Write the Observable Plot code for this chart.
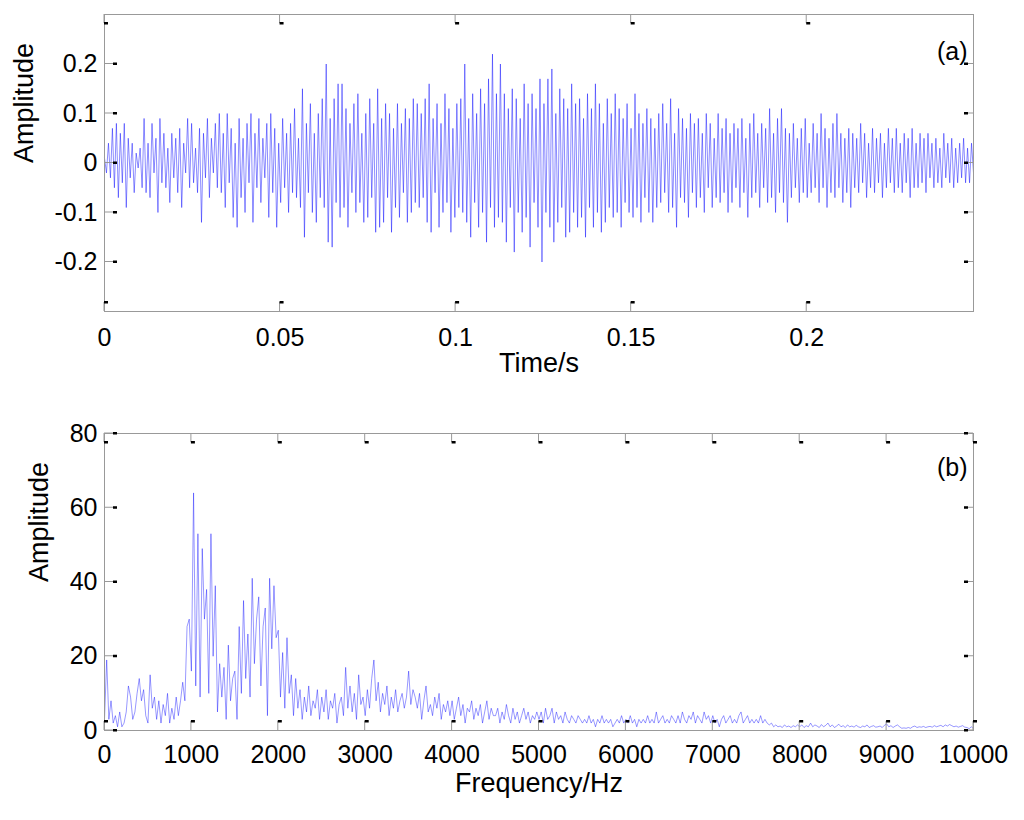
<!DOCTYPE html>
<html><head><meta charset="utf-8">
<script src="https://cdn.jsdelivr.net/npm/d3@7"></script>
<script src="https://cdn.jsdelivr.net/npm/@observablehq/plot@0.6"></script>
<style>
body{margin:0;background:#fff;}
#chart{width:1024px;height:820px;}
#chart svg{display:block;}
</style></head><body><div id="chart"></div>
<script>
// ---- Panel (a): time signal ----
const timeEnd = 0.2475; // seconds, last sample
const ampTime = [
0.01,-0.02,0.04,-0.03,0.07,-0.05,0.08,-0.07,0.06,-0.04,0.08,-0.09,0.05,-0.03,0.04,-0.06,0.02,-0.01,0.03,-0.05,
0.09,-0.06,0.04,-0.07,0.08,-0.02,0.05,-0.10,0.09,-0.04,0.06,-0.05,0.03,-0.08,0.06,-0.03,0.05,-0.06,0.07,-0.09,
0.04,-0.02,0.09,-0.05,0.08,-0.04,0.03,-0.06,0.07,-0.12,0.06,-0.03,0.09,-0.07,0.05,-0.02,0.08,-0.05,0.10,-0.06,
0.06,-0.09,0.10,-0.04,0.07,-0.11,0.04,-0.13,0.09,-0.07,0.05,-0.10,0.08,-0.04,0.10,-0.12,0.06,-0.05,0.09,-0.08,
0.05,-0.03,0.08,-0.11,0.10,-0.06,0.07,-0.13,0.04,-0.08,0.09,-0.05,0.06,-0.10,0.08,-0.06,0.11,-0.07,0.05,-0.09,
0.15,-0.15,0.08,-0.06,0.12,-0.10,0.06,-0.12,0.10,-0.07,0.13,-0.09,0.20,-0.16,0.09,-0.17,0.13,-0.08,0.16,-0.11,
0.16,-0.09,0.11,-0.13,0.08,-0.06,0.12,-0.10,0.14,-0.08,0.06,-0.12,0.10,-0.11,0.13,-0.07,0.08,-0.14,0.15,-0.13,
0.09,-0.12,0.12,-0.07,0.10,-0.14,0.07,-0.09,0.12,-0.11,0.08,-0.06,0.11,-0.12,0.09,-0.10,0.13,-0.08,0.12,-0.09,
0.10,-0.07,0.13,-0.12,0.16,-0.14,0.09,-0.06,0.12,-0.13,0.08,-0.10,0.14,-0.08,0.11,-0.14,0.07,-0.11,0.12,-0.09,
0.13,-0.10,0.20,-0.12,0.09,-0.15,0.14,-0.08,0.10,-0.13,0.15,-0.10,0.12,-0.16,0.17,-0.09,0.22,-0.13,0.14,-0.11,
0.20,-0.12,0.14,-0.16,0.11,-0.09,0.15,-0.18,0.13,-0.10,0.09,-0.14,0.16,-0.11,0.12,-0.17,0.14,-0.08,0.11,-0.13,
0.17,-0.20,0.12,-0.10,0.17,-0.13,0.19,-0.16,0.10,-0.12,0.15,-0.09,0.13,-0.15,0.11,-0.14,0.16,-0.10,0.12,-0.13,
0.13,-0.11,0.09,-0.15,0.14,-0.09,0.11,-0.13,0.16,-0.10,0.12,-0.14,0.08,-0.12,0.13,-0.09,0.10,-0.11,0.14,-0.10,
0.11,-0.13,0.09,-0.08,0.12,-0.10,0.07,-0.11,0.14,-0.09,0.10,-0.12,0.08,-0.07,0.11,-0.10,0.09,-0.12,0.07,-0.09,
0.10,-0.08,0.12,-0.06,0.08,-0.10,0.13,-0.09,0.06,-0.13,0.11,-0.07,0.09,-0.08,0.07,-0.11,0.10,-0.06,0.08,-0.09,
0.09,-0.07,0.06,-0.10,0.10,-0.05,0.08,-0.09,0.05,-0.07,0.10,-0.08,0.07,-0.06,0.09,-0.10,0.06,-0.08,0.08,-0.05,
0.07,-0.09,0.09,-0.06,0.05,-0.11,0.08,-0.07,0.10,-0.06,0.06,-0.09,0.08,-0.05,0.07,-0.08,0.11,-0.07,0.06,-0.10,
0.09,-0.06,0.11,-0.08,0.07,-0.12,0.06,-0.07,0.08,-0.05,0.05,-0.08,0.07,-0.06,0.09,-0.07,0.04,-0.06,0.08,-0.05,
0.06,-0.08,0.10,-0.05,0.07,-0.09,0.05,-0.06,0.08,-0.07,0.10,-0.05,0.06,-0.08,0.05,-0.06,0.07,-0.09,0.06,-0.05,
0.05,-0.06,0.08,-0.04,0.06,-0.07,0.04,-0.05,0.07,-0.06,0.05,-0.04,0.06,-0.07,0.04,-0.05,0.07,-0.04,0.05,-0.06,
0.07,-0.05,0.04,-0.06,0.06,-0.04,0.05,-0.07,0.07,-0.05,0.04,-0.05,0.06,-0.04,0.05,-0.06,0.06,-0.03,0.04,-0.05,
0.05,-0.04,0.03,-0.05,0.06,-0.03,0.04,-0.04,0.05,-0.05,0.03,-0.04,0.04,-0.03,0.05,-0.04,0.03,-0.04,0.04,-0.02
];
const timeTicks = [0, 0.05, 0.1, 0.15, 0.2];
const ampTicksA = [-0.2, -0.1, 0, 0.1, 0.2];

// ---- Panel (b): spectrum ----
const freqStep = 25; // Hz between spectrum points
const ampFreq = [
3,19,3,8,2,4,1,5,1,2,5,12,9,3,5,10,14,8,11,4,
2,15,6,9,3,8,2,7,4,10,2,6,3,9,4,8,13,8,28,30,
16,64,12,53,9,49,30,38,10,53,20,39,5,18,9,17,3,23,8,14,
16,3,28,10,35,14,26,9,41,18,30,36,12,28,33,4,41,22,39,25,
27,9,21,6,25,10,15,4,14,6,11,3,9,5,12,4,8,6,11,3,
9,5,11,3,8,6,10,2,7,9,4,17,6,12,5,10,3,15,7,9,
4,11,6,14,19,8,13,5,10,7,12,4,9,6,11,5,8,10,6,9,
16,7,11,9,6,10,3,8,12,5,7,4,9,6,10,3,7,5,8,4,
8,3,6,9,4,7,2,6,5,8,3,6,4,7,2,5,8,3,6,4,
4,6,2,5,3,7,4,2,6,3,5,2,4,6,3,5,2,4,3,5,
3,5,2,6,3,4,6,2,5,3,4,2,5,3,2,4,3,2,4,3,
2,3,2,4,2,3,1,3,2,4,2,3,2,3,1,2,3,2,4,2,
3,2,4,2,3,1,3,2,3,2,4,2,3,2,5,2,3,4,2,3,
2,4,3,2,4,2,5,3,2,4,3,5,2,4,3,2,5,3,4,2,
4,2,3,1,3,4,2,3,4,2,3,2,4,5,2,3,4,2,3,2,
3,2,4,2,3,2,1.5,2,1,1.5,1,1.2,0.8,1.5,1,1.2,0.8,1.3,1,1.5,
1,1.5,0.8,1.3,1,2,1,1.5,1.2,0.8,1.6,1,1.4,2,1,1.5,0.8,1.2,1.7,1,
1.3,0.8,1.5,1,1.2,0.9,1.4,1,0.8,1.2,1,1.5,0.8,1.1,1.3,0.9,1,1.2,0.8,1.4,
1.8,1,1.3,0.8,1.2,1.5,1,0.6,0.7,0.6,0.8,0.6,1,1.2,0.8,1,0.9,1.1,0.8,1,
1.1,0.9,1.3,1,1.2,1.4,1,1.5,1.2,1.6,1.3,1,1.2,0.9,1.1,1.3,0.9,0.8,0.5,1,
0.5
];
const freqTicks = [0,1000,2000,3000,4000,5000,6000,7000,8000,9000,10000];
const ampTicksB = [0, 20, 40, 60, 80];

const timeData = ampTime.map((v, i) => ({x: i * timeEnd / (ampTime.length - 1), y: v}));
const freqData = ampFreq.map((v, i) => ({x: i * freqStep, y: v}));

const FONT = "'Liberation Sans', Arial, Helvetica, sans-serif";

function panel(o) {
  const W = 1024, H = 410, ML = 104, MR = 51;
  const plot = Plot.plot({
    width: W, height: H,
    marginLeft: ML, marginRight: MR, marginTop: o.mt, marginBottom: o.mb,
    style: {fontFamily: FONT, fontSize: "25px", background: "#fff", color: "#000", overflow: "visible"},
    x: {domain: o.xDomain, label: null},
    y: {domain: o.yDomain, label: null},
    marks: [
      Plot.line(o.data, {x: "x", y: "y", stroke: "#0000ff", strokeWidth: o.lw, strokeOpacity: 0.45}),
      Plot.frame({stroke: "#999", strokeWidth: 1}),
      Plot.axisX(o.xTicks, {tickSize: 0, tickPadding: o.padX, tickFormat: d => String(d), fontSize: 25, label: null}),
      Plot.axisY(o.yTicks, {tickSize: 0, tickPadding: 7, tickFormat: d => String(d), fontSize: 25, label: null}),
      Plot.text([o.xLabel], {frameAnchor: "bottom", dy: o.xLabelDy, fontSize: 27, fill: "#000"}),
      Plot.text(["Amplitude"], {frameAnchor: "left", rotate: -90, dx: o.yLabelDx, fontSize: 27, fill: "#000"}),
      Plot.text([o.tag], {frameAnchor: "top-right", textAnchor: "end", dx: -6, dy: o.tagDy, fontSize: 25, fill: "#000"})
    ]
  });
  // MATLAB-style inward tick marks drawn with the plot's own scales
  const sx = plot.scale("x"), sy = plot.scale("y");
  const svg = d3.select(plot);
  const g = svg.append("g");
  const left = ML, right = W - MR, top = o.mt, bottom = H - o.mb;
  for (const t of o.xTicks) {
    const X = sx.apply(t);
    for (const [edge, dir] of [[bottom, -1], [top, 1]]) {
      g.append("line").attr("x1", X).attr("x2", X).attr("y1", edge).attr("y2", edge + dir * 9)
        .attr("stroke", "#999").attr("stroke-width", 1);
      g.append("rect").attr("x", X).attr("y", edge + dir * 9 - 1).attr("width", 4).attr("height", 2.5).attr("fill", "#000");
    }
  }
  for (const t of o.yTicks) {
    const Y = sy.apply(t);
    g.append("line").attr("x1", left).attr("x2", left + 9).attr("y1", Y).attr("y2", Y).attr("stroke", "#999");
    g.append("rect").attr("x", left + 9).attr("y", Y - 1).attr("width", 4).attr("height", 2.5).attr("fill", "#000");
    g.append("line").attr("x1", right).attr("x2", right - 9).attr("y1", Y).attr("y2", Y).attr("stroke", "#999");
    g.append("rect").attr("x", right - 9).attr("y", Y - 1).attr("width", 4).attr("height", 2.5).attr("fill", "#000");
  }
  return plot;
}

const chart = document.getElementById("chart");
chart.appendChild(panel({
  data: timeData, xDomain: [0, timeEnd], yDomain: [-0.3, 0.3], lw: 1,
  xTicks: timeTicks, yTicks: ampTicksA, xLabel: "Time/s", tag: "(a)",
  mt: 14, mb: 99, padX: 17, xLabelDy: 60, yLabelDx: -80, tagDy: 28
}));
chart.appendChild(panel({
  data: freqData, xDomain: [0, 10000], yDomain: [0, 80], lw: 0.9,
  xTicks: freqTicks, yTicks: ampTicksB, xLabel: "Frequency/Hz", tag: "(b)",
  mt: 23, mb: 90, padX: 15, xLabelDy: 61, yLabelDx: -65, tagDy: 25
}));
</script></body></html>
